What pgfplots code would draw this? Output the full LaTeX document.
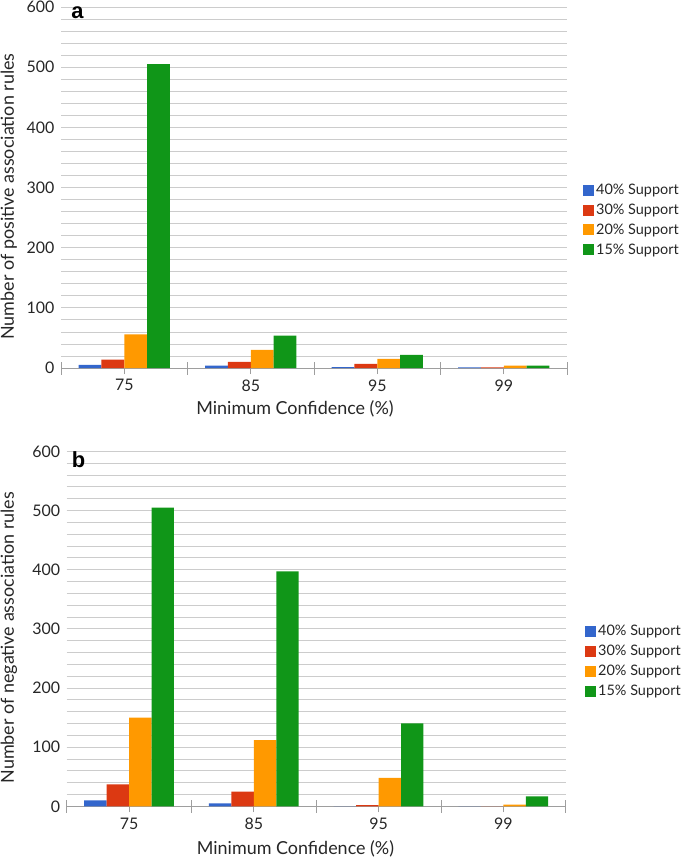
\documentclass[border=0pt]{standalone}
\usepackage{fontspec}
\setmainfont{Lato}
\newfontfamily\labfont{Liberation Sans}
\usepackage{pgfplots}
\pgfplotsset{compat=1.18}

\definecolor{cblue}{HTML}{3366CC}
\definecolor{cred}{HTML}{DC3912}
\definecolor{corange}{HTML}{FF9900}
\definecolor{cgreen}{HTML}{109618}
\definecolor{gridc}{HTML}{CCCCCC}
\definecolor{axc}{HTML}{9E9E9E}

\pgfplotsset{
  rulesbars/.style={
    scale only axis,
    ybar=0pt,
    bar width=0.18,
    ymin=0, ymax=600,
    xmin=-0.5, xmax=3.5,
    xtick={0,1,2,3},
    xticklabels={75,85,95,99},
    xtick align=outside,
    major tick length=6bp,
    extra x ticks={-0.5,0.5,1.5,2.5,3.5},
    extra x tick labels={},
    extra x tick style={major tick length=13bp, tick align=center},
    ytick={0,100,...,600},
    minor ytick={20,40,...,580},
    ymajorgrids, yminorgrids,
    major grid style={gridc, line width=0.8pt},
    minor grid style={gridc, line width=0.8pt},
    axis x line*=bottom,
    axis y line*=left,
    x axis line style={axc, line width=1pt, -},
    y axis line style={draw=none},
    xtick style={axc, line width=0.8pt},
    ytick style={draw=none},
    every minor tick/.append style={draw=none},
    /pgf/number format/assume math mode=true,
    tick label style={font=\fontsize{16}{18}\selectfont, text=black!85},
    xticklabel style={yshift=-2bp},
    yticklabel style={xshift=-3bp},
    label style={font=\fontsize{18}{21}\selectfont, text=black!85},
    legend style={draw=none, fill=none, inner sep=0pt, row sep=8bp,
      font=\fontsize{14.5}{16}\selectfont, text=black!85,
      nodes={inner ysep=0pt, inner xsep=2bp}},
    legend cell align=left,
    legend image code/.code={\fill[##1] (0bp,-5.5bp) rectangle (11bp,5.5bp);},
  },
}

\begin{document}
\begin{tikzpicture}
\useasboundingbox (0,0) rectangle (685bp,-858bp);

% panel a
\begin{axis}[
  rulesbars,
  at={(61bp,-368bp)}, anchor=south west,
  width=506bp, height=361bp,
  xlabel={Minimum Confidence (\%)},
  ylabel={Number of positive association rules},
  xlabel style={at={(axis description cs:0.4625,-0.1136)}, anchor=center},
  ylabel style={at={(axis description cs:-0.103,0.475)}, anchor=center},
  legend style={at={(axis description cs:1.0316,0.41)}, anchor=west},
]
\addplot[fill=cblue, draw=none] coordinates {(0,5) (1,4) (2,1.5) (3,1)};
\addlegendentry{40\% Support}
\addplot[fill=cred, draw=none] coordinates {(0,14) (1,10) (2,7) (3,1)};
\addlegendentry{30\% Support}
\addplot[fill=corange, draw=none] coordinates {(0,56) (1,30) (2,15) (3,4)};
\addlegendentry{20\% Support}
\addplot[fill=cgreen, draw=none] coordinates {(0,505) (1,54) (2,22) (3,4)};
\addlegendentry{15\% Support}
\end{axis}
\node[font=\labfont\bfseries\fontsize{22}{24}\selectfont, anchor=center] at (77.5bp,-13bp) {a};

% panel b
\begin{axis}[
  rulesbars,
  at={(66.7bp,-806.3bp)}, anchor=south west,
  width=499bp, height=355bp,
  xlabel={Minimum Confidence (\%)},
  ylabel={Number of negative association rules},
  xlabel style={at={(axis description cs:0.4585,-0.120)}, anchor=center},
  ylabel style={at={(axis description cs:-0.116,0.475)}, anchor=center},
  legend style={at={(axis description cs:1.0387,0.409)}, anchor=west},
]
\addplot[fill=cblue, draw=none] coordinates {(0,10) (1,5) (2,0) (3,0)};
\addlegendentry{40\% Support}
\addplot[fill=cred, draw=none] coordinates {(0,37) (1,25) (2,2) (3,0)};
\addlegendentry{30\% Support}
\addplot[fill=corange, draw=none] coordinates {(0,150) (1,112) (2,48) (3,3)};
\addlegendentry{20\% Support}
\addplot[fill=cgreen, draw=none] coordinates {(0,505) (1,397) (2,140) (3,17)};
\addlegendentry{15\% Support}
\end{axis}
\node[font=\labfont\bfseries\fontsize{22}{24}\selectfont, anchor=center] at (78.5bp,-460bp) {b};
\end{tikzpicture}
\end{document}
